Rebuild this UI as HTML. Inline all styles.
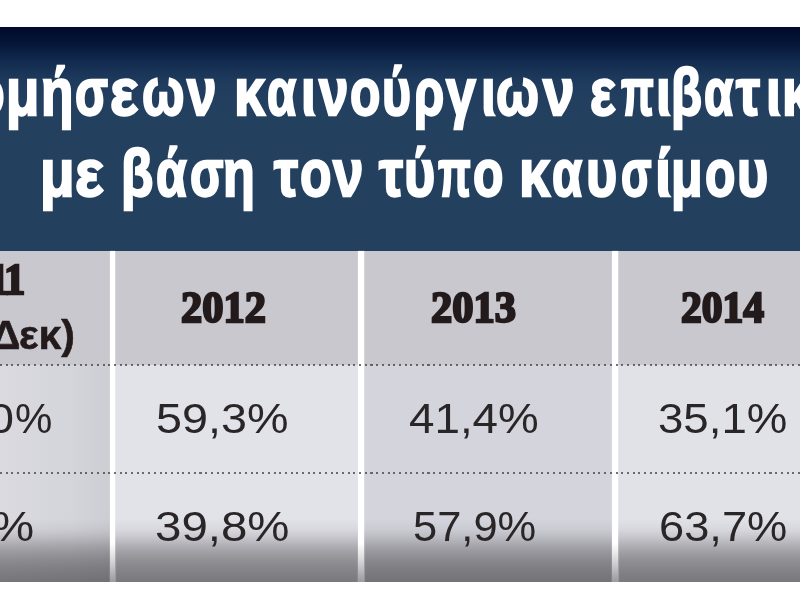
<!DOCTYPE html>
<html><head><meta charset="utf-8">
<style>
html,body{margin:0;padding:0;}
body{width:800px;height:600px;overflow:hidden;background:#fff;position:relative;font-family:"Liberation Sans",sans-serif;}
.abs{position:absolute;}
#band{left:0;top:27px;width:800px;height:224px;background:linear-gradient(to bottom,#020a2a 0px,#031032 8px,#061739 18px,#0b2145 26px,#10294e 33px,#163053 40px,#1a3558 46px,#1f3b5d 56px,#233f60 72px,#24405f 92px,#24405f 100%);}
span{position:absolute;white-space:nowrap;transform-origin:0 0;filter:blur(0.7px);}
.t,.t2{color:#fff;font-weight:bold;font-size:67px;line-height:67px;-webkit-text-stroke:2.3px #fff;}
.t{top:58.3px}
.t2{top:139.3px}
#hdr{left:0;top:251px;width:800px;height:114px;background:#c9c8cf;}
.col{position:absolute;top:365px;height:217px;}
#shade{left:0;top:518px;width:800px;height:64px;background:linear-gradient(to bottom,rgba(40,38,40,0) 0px,rgba(40,38,40,0.02) 5px,rgba(40,38,40,0.06) 12px,rgba(40,38,40,0.14) 19px,rgba(40,38,40,0.26) 27px,rgba(40,38,40,0.35) 34px,rgba(40,38,40,0.43) 42px,rgba(40,38,40,0.49) 50px,rgba(40,38,40,0.53) 57px,rgba(40,38,40,0.56) 64px);}
.sep{position:absolute;top:251px;height:331px;width:5px;background:linear-gradient(to bottom,#fff 0,#fff 292px,#f0f0f1 299px,#d0d0d2 312px,#a8a7aa 326px,#9c9b9e 331px);box-shadow:0 0 1.5px 0.5px rgba(255,255,255,0.7);}
.dot{position:absolute;left:0;width:800px;height:2px;background:repeating-linear-gradient(to right,#38363a 0,#38363a 2px,transparent 2px,transparent 5.7px);opacity:0.7}
.yr{font-family:"Liberation Serif",serif;font-weight:bold;color:#231a1c;font-size:45px;line-height:45px;-webkit-text-stroke:2.4px #231a1c;}
.y0{top:257.2px}.y1{top:284.6px}
.d{color:#2a2628;font-size:42px;line-height:42px;}
.r1{top:397.5px}.r2{top:505.5px}
.m{color:#231a1c;font-weight:bold;font-size:41px;line-height:41px;top:315px;-webkit-text-stroke:0.6px #231a1c;}
</style></head><body>
<div class="abs" id="band"></div>
<div class="abs" id="hdr"></div>
<div class="col" style="left:0;width:113px;background:linear-gradient(to right,#dadae0 0,#d4d4db 70px,#cdcdd4 110px)"></div>
<div class="col" style="left:113px;width:248px;background:#e2e2e9"></div>
<div class="col" style="left:361px;width:254px;background:#d4d4dc"></div>
<div class="col" style="left:615px;width:185px;background:#e1e1e8"></div>
<div class="abs" id="shade"></div>
<div class="sep" style="left:110px"></div>
<div class="sep" style="left:358px;width:6px"></div>
<div class="sep" style="left:612px;width:6px"></div>
<div class="dot" style="top:364px"></div>
<div class="dot" style="top:472px"></div>
<span class="t" id="a0" style="left:-27.60px;transform:scaleX(0.8000)">ο</span>
<span class="t" id="a1" style="left:6.37px;transform:scaleX(0.8114)">μ</span>
<span class="t" id="a2" style="left:41.42px;transform:scaleX(0.7917)">ή</span>
<span class="t" id="a3" style="left:74.88px;transform:scaleX(0.7200)">σ</span>
<span class="t" id="a4" style="left:109.61px;transform:scaleX(0.8871)">ε</span>
<span class="t" id="a5" style="left:141.75px;transform:scaleX(0.7500)">ω</span>
<span class="t" id="a6" style="left:187.18px;transform:scaleX(0.7895)">ν</span>
<span class="t" id="a7" style="left:233.50px;transform:scaleX(0.8333)">κ</span>
<span class="t" id="a8" style="left:267.29px;transform:scaleX(0.7073)">α</span>
<span class="t" id="a9" style="left:300.60px;transform:scaleX(0.8000)">ι</span>
<span class="t" id="a10" style="left:318.58px;transform:scaleX(0.7895)">ν</span>
<span class="t" id="a11" style="left:350.26px;transform:scaleX(0.7436)">ο</span>
<span class="t" id="a12" style="left:381.77px;transform:scaleX(0.7429)">ύ</span>
<span class="t" id="a13" style="left:413.81px;transform:scaleX(0.7297)">ρ</span>
<span class="t" id="a14" style="left:445.80px;transform:scaleX(0.8000)">γ</span>
<span class="t" id="a15" style="left:480.60px;transform:scaleX(0.8000)">ι</span>
<span class="t" id="a16" style="left:496.24px;transform:scaleX(0.7593)">ω</span>
<span class="t" id="a17" style="left:542.68px;transform:scaleX(0.8421)">ν</span>
<span class="t" id="a18" style="left:590.19px;transform:scaleX(0.8065)">ε</span>
<span class="t" id="a19" style="left:620.68px;transform:scaleX(0.6400)">π</span>
<span class="t" id="a20" style="left:655.60px;transform:scaleX(0.8000)">ι</span>
<span class="t" id="a21" style="left:670.73px;transform:scaleX(0.7568)">β</span>
<span class="t" id="a22" style="left:704.29px;transform:scaleX(0.7073)">α</span>
<span class="t" id="a23" style="left:735.81px;transform:scaleX(0.8065)">τ</span>
<span class="t" id="a24" style="left:765.60px;transform:scaleX(0.8000)">ι</span>
<span class="t" id="a25" style="left:781.60px;transform:scaleX(0.8000)">κών</span>
<span class="t2" id="b0" style="left:39.97px;transform:scaleX(0.8429)">μ</span>
<span class="t2" id="b1" style="left:74.95px;transform:scaleX(0.9000)">ε</span>
<span class="t2" id="b2" style="left:121.38px;transform:scaleX(0.7905)">β</span>
<span class="t2" id="b3" style="left:156.26px;transform:scaleX(0.7439)">ά</span>
<span class="t2" id="b4" style="left:189.87px;transform:scaleX(0.7311)">σ</span>
<span class="t2" id="b5" style="left:223.44px;transform:scaleX(0.7778)">η</span>
<span class="t2" id="b6" style="left:273.81px;transform:scaleX(0.8065)">τ</span>
<span class="t2" id="b7" style="left:300.23px;transform:scaleX(0.7692)">ο</span>
<span class="t2" id="b8" style="left:332.63px;transform:scaleX(0.8158)">ν</span>
<span class="t2" id="b9" style="left:378.81px;transform:scaleX(0.8065)">τ</span>
<span class="t2" id="b10" style="left:403.60px;transform:scaleX(0.8000)">ύ</span>
<span class="t2" id="b11" style="left:438.18px;transform:scaleX(0.6400)">π</span>
<span class="t2" id="b12" style="left:473.26px;transform:scaleX(0.7436)">ο</span>
<span class="t2" id="b13" style="left:518.50px;transform:scaleX(0.8333)">κ</span>
<span class="t2" id="b14" style="left:552.27px;transform:scaleX(0.7317)">α</span>
<span class="t2" id="b15" style="left:585.60px;transform:scaleX(0.8000)">υ</span>
<span class="t2" id="b16" style="left:621.33px;transform:scaleX(0.6667)">σ</span>
<span class="t2" id="b17" style="left:655.38px;transform:scaleX(0.8750)">ί</span>
<span class="t2" id="b18" style="left:670.69px;transform:scaleX(0.7714)">μ</span>
<span class="t2" id="b19" style="left:705.26px;transform:scaleX(0.7436)">ο</span>
<span class="t2" id="b20" style="left:736.60px;transform:scaleX(0.8000)">υ</span>
<span class="yr y0" id="y0a" style="left:-11.76px;transform:scaleX(0.9438)">1</span>
<span class="yr y0" id="y0" style="left:4.24px;transform:scaleX(0.9438)">1</span>
<span class="yr y1" id="y1" style="left:181.00px;transform:scaleX(0.9438)">2012</span>
<span class="yr y1" id="y2" style="left:431.00px;transform:scaleX(0.9444)">2013</span>
<span class="yr y1" id="y3" style="left:681.00px;transform:scaleX(0.9231)">2014</span>
<span class="m" id="m0" style="left:-9.00px;transform:scaleX(1.0000)">Δ</span>
<span class="m" id="m1" style="left:19.00px;transform:scaleX(1.0000)">εκ)</span>
<span class="d r1" id="d00" style="left:-12.47px;transform:scaleX(1.1121)">0</span>
<span class="d r1" id="d00b" style="left:15.00px;transform:scaleX(1.0000)">%</span>
<span class="d r1" id="d01" style="left:155.78px;transform:scaleX(1.1121)">59,3%</span>
<span class="d r1" id="d02" style="left:408.91px;transform:scaleX(1.0897)">41,4%</span>
<span class="d r1" id="d03" style="left:657.83px;transform:scaleX(1.0862)">35,1%</span>
<span class="d r2" id="d10" style="left:-7.66px;transform:scaleX(1.1293)">%</span>
<span class="d r2" id="d11" style="left:154.74px;transform:scaleX(1.1293)">39,8%</span>
<span class="d r2" id="d12" style="left:412.93px;transform:scaleX(1.0345)">57,9%</span>
<span class="d r2" id="d13" style="left:658.84px;transform:scaleX(1.0776)">63,7%</span>
</body></html>
